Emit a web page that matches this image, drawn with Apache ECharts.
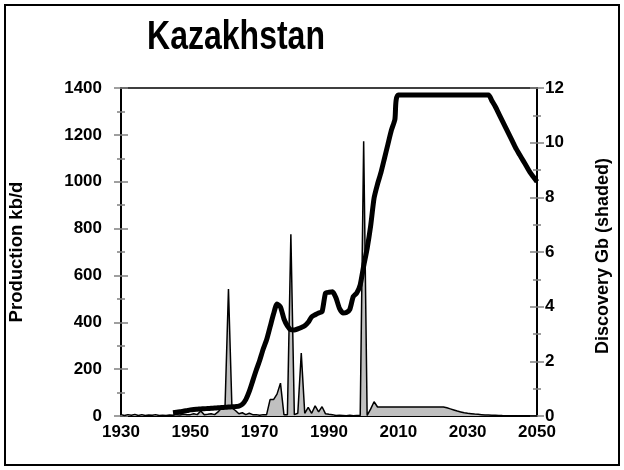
<!DOCTYPE html>
<html lang="en">
<head>
  <meta charset="UTF-8">
  <title>Kazakhstan</title>
  <script src="https://cdn.jsdelivr.net/npm/echarts@6/dist/echarts.min.js"></script>
  <style>
    body { margin: 0; background: #fff; }
    #chart { width: 624px; height: 470px; }
  </style>
</head>
<body>
  <div id="chart"></div>
  <script>
    // 年份 + 产量 kb/d
    const prodYears = [1945, 1946, 1947, 1948, 1949, 1950, 1951, 1952, 1953, 1954, 1955, 1956, 1957, 1958, 1959,
      1960, 1961, 1962, 1963, 1964, 1965, 1966, 1967, 1968, 1969, 1970, 1971, 1972, 1973, 1974,
      1975, 1976, 1977, 1978, 1979, 1980, 1981, 1982, 1983, 1984, 1985, 1986, 1987, 1988, 1989,
      1990, 1991, 1992, 1993, 1994, 1995, 1996, 1997, 1998, 1999, 2000, 2001, 2002, 2003, 2004,
      2005, 2006, 2007, 2008, 2009, 2010, 2036, 2037, 2038, 2039, 2040, 2041, 2042, 2043, 2044,
      2045, 2046, 2047, 2048, 2049, 2050]
    const production = [14, 16, 18, 20, 23, 26, 28, 29, 30, 31, 32, 33, 34, 35, 36,
      37, 38, 39, 40, 42, 50, 70, 105, 150, 195, 237, 285, 325, 380, 435,
      478, 465, 415, 385, 368, 367, 372, 378, 385, 400, 423, 432, 440, 445, 525,
      528, 530, 505, 460, 440, 442, 455, 510, 525, 560, 640, 715, 810, 930, 990,
      1040, 1100, 1160, 1220, 1265, 1370, 1370, 1345, 1320, 1290, 1260, 1230, 1200, 1170, 1140,
      1115, 1090, 1065, 1040, 1020, 1000]

    // 发现量 Gb，1930 - 2050 每年
    const discYears = []
    for (let y = 1930; y <= 2050; y++) discYears.push(y)
    const discovery = [0.05, 0.02, 0.05, 0.03, 0.06, 0.02, 0.05, 0.02, 0.04, 0.03,
      0.05, 0.02, 0.03, 0.02, 0.04, 0.03, 0.05, 0.04, 0.06, 0.05,
      0.05, 0.08, 0.05, 0.18, 0.05, 0.06, 0.08, 0.05, 0.15, 0.3,
      0.3, 4.65, 0.3, 0.2, 0.08, 0.12, 0.05, 0.1, 0.05, 0.05,
      0.03, 0.05, 0.05, 0.6, 0.6, 0.8, 1.2, 0.05, 0.05, 6.65,
      0.05, 0.1, 2.3, 0.1, 0.32, 0.1, 0.37, 0.15, 0.34, 0.08,
      0.06, 0.05, 0.02, 0.03, 0.02, 0.01, 0.03, 0.01, 0.02, 0.02,
      10.05, 0.02, 0.25, 0.52, 0.33, 0.33, 0.33, 0.33, 0.33, 0.33,
      0.33, 0.33, 0.33, 0.33, 0.33, 0.33, 0.33, 0.33, 0.33, 0.33,
      0.33, 0.33, 0.33, 0.33, 0.3, 0.26, 0.22, 0.18, 0.15, 0.12,
      0.1, 0.085, 0.07, 0.06, 0.05, 0.04, 0.035, 0.03, 0.025, 0.02,
      0.015, 0.012, 0.01, 0.008, 0.006, 0.004, 0.002, 0, 0, 0, 0]

    const xTicks = [1930, 1950, 1970, 1990, 2010, 2030, 2050]

    const font = '"Liberation Sans", Arial, sans-serif'
    const grey = '#808080'

    let chart = echarts.init(document.getElementById('chart'))

    function labelCfg(margin) {
      return { color: '#000', fontWeight: 'bold', fontSize: 17, fontFamily: font, margin: margin, formatter: v => String(v) }
    }

    function yAxisCfg(opt) {
      return Object.assign({
        type: 'value',
        splitLine: { show: false },
        axisLine: { show: true, onZero: false, lineStyle: { color: '#000', width: 2 } },
        axisTick: { show: true, length: 7, lineStyle: { color: grey, width: 1.5 } },
        minorTick: { show: true, splitNumber: 2, length: 4, lineStyle: { color: grey, width: 1.5 } },
        axisLabel: labelCfg(8)
      }, opt)
    }

    let option = {
      animation: false,
      grid: { left: 121, right: 87, top: 88, bottom: 54 },
      graphic: [
        {
          type: 'rect', shape: { x: 5, y: 5, width: 614, height: 460 },
          style: { fill: 'none', stroke: '#000', lineWidth: 2 }, silent: true
        },
        {
          type: 'text', x: 236, y: 38, scaleX: 0.8,
          style: {
            text: 'Kazakhstan', fill: '#000',
            font: 'bold 40px ' + font,
            textAlign: 'center', textVerticalAlign: 'middle'
          }
        },
        {
          type: 'text', x: 17, y: 252, rotation: Math.PI / 2,
          style: {
            text: 'Production kb/d', fill: '#000', font: 'bold 18.5px ' + font,
            textAlign: 'center', textVerticalAlign: 'middle'
          }
        },
        {
          type: 'text', x: 603, y: 256, rotation: Math.PI / 2,
          style: {
            text: 'Discovery Gb (shaded)', fill: '#000', font: 'bold 18px ' + font,
            textAlign: 'center', textVerticalAlign: 'middle'
          }
        }
      ],
      xAxis: [
        {
          type: 'value', min: 1930, max: 2050, interval: 10,
          splitLine: { show: false },
          axisTick: { show: false },
          axisLine: { show: true, onZero: false, lineStyle: { color: '#000', width: 2 } },
          axisLabel: {
            color: '#000', fontWeight: 'bold', fontSize: 17, fontFamily: font, margin: 8,
            formatter: v => xTicks.indexOf(v) >= 0 ? String(v) : ''
          }
        },
        {
          type: 'value', min: 1930, max: 2050, position: 'top',
          splitLine: { show: false }, axisTick: { show: false }, axisLabel: { show: false },
          axisLine: { show: true, onZero: false, lineStyle: { color: '#000', width: 1.5 } }
        }
      ],
      yAxis: [
        yAxisCfg({ min: 0, max: 1400, interval: 200, position: 'left', axisLabel: labelCfg(19) }),
        yAxisCfg({ min: 0, max: 12, interval: 2, position: 'right', axisLabel: labelCfg(8) }),
        // 内侧刻度，形成穿过轴线的刻度
        yAxisCfg({ min: 0, max: 1400, interval: 200, position: 'left', axisTick: { show: true, inside: true, length: 7, lineStyle: { color: grey, width: 1.5 } }, axisLabel: { show: false } }),
        yAxisCfg({ min: 0, max: 12, interval: 2, position: 'right', axisTick: { show: true, inside: true, length: 7, lineStyle: { color: grey, width: 1.5 } }, axisLabel: { show: false } })
      ],
      series: [
        {
          name: 'Discovery',
          type: 'line',
          yAxisIndex: 1,
          symbol: 'none',
          data: discYears.map((y, i) => [y, discovery[i]]),
          lineStyle: { color: '#000', width: 1.5 },
          areaStyle: { color: '#c0c0c0', opacity: 1 },
          z: 2
        },
        {
          name: 'Production',
          type: 'line',
          yAxisIndex: 0,
          symbol: 'none',
          smooth: 0.2,
          data: prodYears.map((y, i) => [y, production[i]]),
          lineStyle: { color: '#000', width: 5 },
          z: 3
        }
      ]
    }

    chart.setOption(option)
  </script>
</body>
</html>
